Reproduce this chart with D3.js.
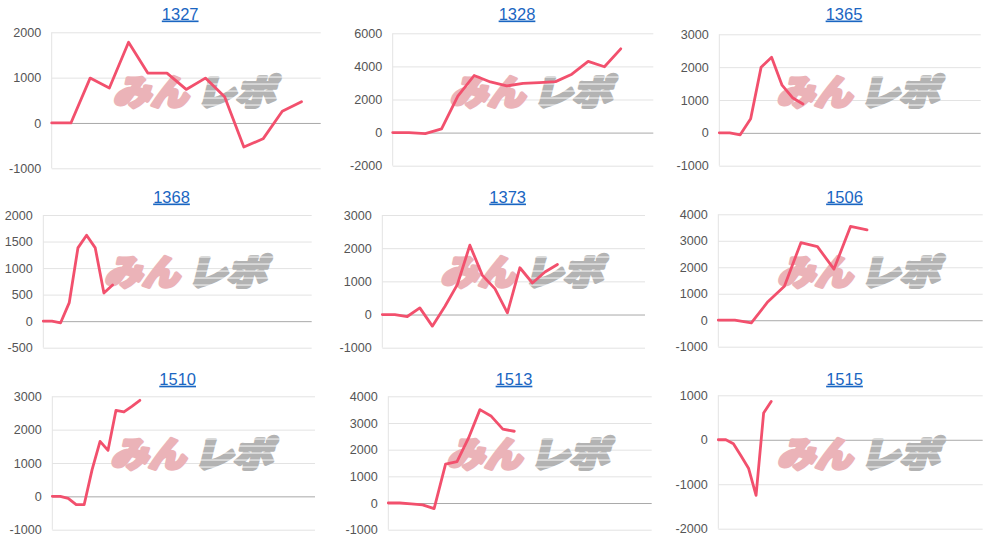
<!DOCTYPE html>
<html>
<head>
<meta charset="utf-8">
<script src="https://cdn.jsdelivr.net/npm/d3@7"></script>
<style>
body { margin: 0; background: #fff; }
svg { display: block; font-family: "Liberation Sans", Arial, sans-serif; }
</style>
</head>
<body>
<script>
// codes shown as chart titles, one small chart each
var codes = ["1327", "1328", "1365", "1368", "1373", "1506", "1510", "1513", "1515"];

// number of x slots (hidden day categories) per chart
var slotCounts = [15, 17, 26, 32, 22, 17, 34, 24, 36];

// values
var s1327 = [0, 0, 990, 770, 1780, 1100, 1100, 740, 990, 580, -530, -350, 260, 470];
var s1328 = [0, 0, -60, 220, 2200, 3450, 3060, 2820, 2980, 3020, 3080, 3530, 4300, 3980, 5060];
var s1365 = [0, 0, -60, 430, 2000, 2300, 1450, 1070, 880];
var s1368 = [0, 0, -30, 350, 1380, 1620, 1380, 530, 680];
var s1373 = [0, 0, -60, 200, -350, 240, 900, 2090, 1180, 780, 50, 1410, 950, 1280, 1510];
var s1506 = [0, 0, -100, 700, 1280, 2930, 2780, 1930, 3540, 3410];
var s1510 = [0, 0, -60, -250, -250, 800, 1650, 1380, 2580, 2530, 2700, 2880];
var s1513 = [0, 0, -30, -70, -210, 1460, 1550, 2430, 3500, 3250, 2770, 2690];
var s1515 = [0, 0, -90, -360, -640, -1250, 600, 860];
var seriesList = [s1327, s1328, s1365, s1368, s1373, s1506, s1510, s1513, s1515];

// y tick labels
var t1327 = [-1000, 0, 1000, 2000];
var t1328 = [-2000, 0, 2000, 4000, 6000];
var t1365 = [-1000, 0, 1000, 2000, 3000];
var t1368 = [-500, 0, 500, 1000, 1500, 2000];
var t1373 = [-1000, 0, 1000, 2000, 3000];
var t1506 = [-1000, 0, 1000, 2000, 3000, 4000];
var t1510 = [-1000, 0, 1000, 2000, 3000];
var t1513 = [-1000, 0, 1000, 2000, 3000, 4000];
var t1515 = [-2000, -1000, 0, 1000];
var tickList = [t1327, t1328, t1365, t1368, t1373, t1506, t1510, t1513, t1515];

// plot boxes (layout)
var boxes = [
  {l: 51.7, r: 320.7, t: 32.3, b: 168.3},
  {l: 392.7, r: 653.3, t: 33.3, b: 165.7},
  {l: 719.3, r: 980.7, t: 34.3, b: 165.7},
  {l: 43.3, r: 311.7, t: 215, b: 347.7},
  {l: 382.3, r: 645, t: 215, b: 347.7},
  {l: 718.3, r: 982.7, t: 214.3, b: 346.7},
  {l: 52.3, r: 315, t: 396.3, b: 529.7},
  {l: 388.3, r: 651.7, t: 396.3, b: 529.7},
  {l: 718.3, r: 982.7, t: 395.3, b: 528.7}
];
var titleY = [19.5, 202.5, 384.7];
var markY = [92, 272, 454];

var svg = d3.select("body").append("svg")
    .attr("width", 1000)
    .attr("height", 545);

var defs = svg.append("defs");
var pat = defs.append("pattern")
    .attr("id", "stripes")
    .attr("patternUnits", "userSpaceOnUse")
    .attr("width", 8)
    .attr("height", 7);
pat.append("rect").attr("width", 8).attr("height", 7).attr("fill", "#b3b3b3");
pat.append("rect").attr("y", 5.5).attr("width", 8).attr("height", 1.2).attr("fill", "#ececec");

codes.forEach(function(code, i) {
  var box = boxes[i];
  var ticks = tickList[i];
  var row = Math.floor(i / 3);

  var x = d3.scaleLinear()
      .domain([0, slotCounts[i] - 1])
      .range([box.l, box.r]);
  var y = d3.scaleLinear()
      .domain([ticks[0], ticks[ticks.length - 1]])
      .range([box.b, box.t]);

  var g = svg.append("g");

  // gridlines + labels
  var yAxis = d3.axisLeft(y)
      .tickValues(ticks)
      .tickSize(-(box.r - box.l))
      .tickPadding(10.5)
      .tickFormat(function(d) { return d; });

  var ax = g.append("g")
      .attr("transform", "translate(" + box.l + ",0)")
      .call(yAxis);
  ax.select(".domain").remove();
  ax.selectAll(".tick line")
      .attr("stroke", function(d) { return d === 0 ? "#a9a9a9" : "#e3e3e3"; })
      .attr("stroke-width", 1);
  ax.selectAll(".tick text")
      .attr("fill", "#555")
      .attr("font-size", 12.6)
      .attr("font-family", "'Liberation Sans', Arial, sans-serif");

  // left axis line
  g.append("line")
      .attr("x1", box.l).attr("x2", box.l)
      .attr("y1", box.t).attr("y2", box.b)
      .attr("stroke", "#e3e3e3");

  // watermark
  var cx = (box.l + box.r) / 2 + 10;
  var wm = g.append("g")
      .attr("transform", "translate(" + cx + "," + markY[row] + ") skewX(-14)");
  wm.append("text")
      .attr("x", -80).attr("y", 13)
      .attr("textLength", 75)
      .attr("lengthAdjust", "spacingAndGlyphs")
      .attr("font-family", "'Noto Sans CJK JP', sans-serif")
      .attr("font-weight", 900)
      .attr("font-size", 35)
      .attr("fill", "#ebb3b8")
      .attr("stroke", "#ebb3b8")
      .attr("stroke-width", 3.5)
      .attr("stroke-linejoin", "round")
      .text("みん");
  wm.append("text")
      .attr("x", 3).attr("y", 13)
      .attr("textLength", 79)
      .attr("lengthAdjust", "spacingAndGlyphs")
      .attr("font-family", "'Noto Sans CJK JP', sans-serif")
      .attr("font-weight", 900)
      .attr("font-size", 35)
      .attr("fill", "url(#stripes)")
      .attr("stroke", "url(#stripes)")
      .attr("stroke-width", 3.5)
      .attr("stroke-linejoin", "round")
      .text("レポ");

  // series line
  var line = d3.line()
      .x(function(d, j) { return x(j); })
      .y(function(d) { return y(d); });

  g.append("path")
      .datum(seriesList[i])
      .attr("fill", "none")
      .attr("stroke", "#f2506d")
      .attr("stroke-width", 2.8)
      .attr("stroke-linejoin", "round")
      .attr("stroke-linecap", "round")
      .attr("d", line);

  // title
  g.append("text")
      .attr("x", (box.l + box.r) / 2 - 6)
      .attr("y", titleY[row])
      .attr("text-anchor", "middle")
      .attr("font-size", 16.5)
      .attr("fill", "#1a66c2")
      .attr("text-decoration", "underline")
      .text(code);
});
</script>
</body>
</html>
